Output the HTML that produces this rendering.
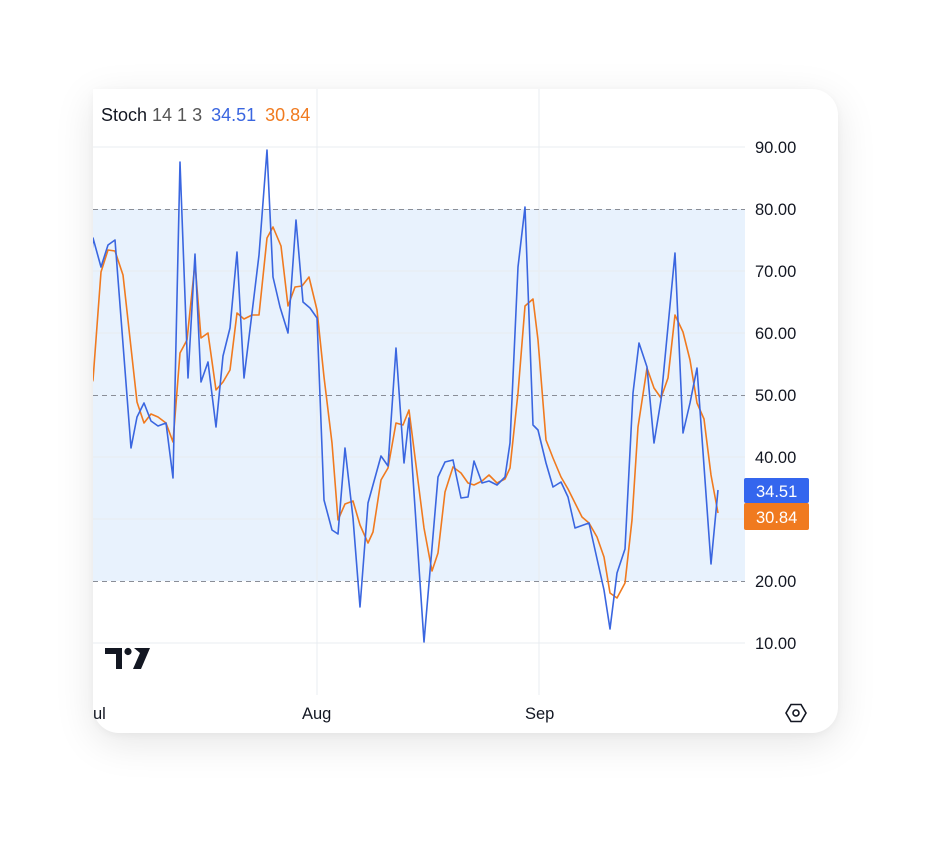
<!DOCTYPE html>
<html><head><meta charset="utf-8"><style>
html,body{margin:0;padding:0;background:#fff;}
body{width:932px;height:866px;position:relative;overflow:hidden;font-family:"Liberation Sans",sans-serif;}
.card{position:absolute;left:93px;top:89px;width:745px;height:644px;border-radius:0 26px 26px 26px;background:#fff;box-shadow:0 10px 40px rgba(0,0,0,0.10),0 2px 8px rgba(0,0,0,0.04);}
svg{position:absolute;left:0;top:0;}
</style></head><body>
<div class="card"></div>
<svg width="932" height="866" viewBox="0 0 932 866">
<defs><clipPath id="c"><rect x="93" y="89" width="652" height="600"/></clipPath></defs>
<rect x="93" y="209" width="652" height="372" fill="#e8f2fd"/>
<g stroke="#e9ecf0" stroke-width="1">
<line x1="93" y1="147" x2="745" y2="147"/><line x1="93" y1="271" x2="745" y2="271"/>
<line x1="93" y1="333" x2="745" y2="333"/><line x1="93" y1="457" x2="745" y2="457"/>
<line x1="93" y1="519" x2="745" y2="519"/><line x1="93" y1="643" x2="745" y2="643"/>
<line x1="317" y1="89" x2="317" y2="695"/><line x1="539" y1="89" x2="539" y2="695"/>
</g>
<g stroke="#8a8e97" stroke-width="1" stroke-dasharray="5,4">
<line x1="93" y1="209.5" x2="745" y2="209.5"/><line x1="93" y1="395.5" x2="745" y2="395.5"/><line x1="93" y1="581.5" x2="745" y2="581.5"/>
</g>
<g clip-path="url(#c)" fill="none" stroke-width="1.6" stroke-linejoin="round">
<polyline stroke="#f07a1f" points="91,385 93,380 101,272 108,250 115,251 123,275 137,402 144,423 151,414 158,417 166,423 173,442 180,353 187,340 195,263 201,338 208,333 216,390 223,382 230,370 237,313 244,319 252,315 259,315 267,238 273,227 281,246 288,306 295,287 302,286 309,277 317,310 324,377 332,443 338,520 345,504 353,501 360,525 368,543 373,532 381,480 388,468 396,423 403,425 409,410 424,528 432,571 438,553 445,492 453,467 461,473 468,483 474,485 482,481 489,475 497,483 505,479 510,468 518,393 525,306 533,299 538,340 546,440 553,458 561,477 568,489 582,517 589,523 597,537 604,557 610,593 617,598 625,583 632,520 638,427 647,368 654,388 661,398 668,378 675,315 683,332 690,360 697,403 704,419 711,475 718,513"/>
<polyline stroke="#3a66e0" points="91,265 93,238 101,267 108,245 115,240 131,448 137,417 144,403 151,421 158,426 166,423 173,478 180,162 188,378 195,254 201,382 208,362 216,427 223,356 230,328 237,252 244,378 252,313 259,255 267,150 273,277 280,307 288,333 296,220 303,302 310,308 317,318 324,500 332,530 338,534 345,448 353,518 360,607 368,503 381,456 388,466 396,348 404,463 409,418 424,642 438,477 445,462 453,460 461,498 468,497 474,461 482,483 489,481 497,485 505,477 510,443 518,267 525,207 533,425 538,430 546,463 553,487 561,482 568,497 575,528 589,523 604,590 610,629 617,573 625,549 633,393 639,343 647,367 654,443 661,400 675,253 683,433 690,403 697,368 711,564 718,490"/>
</g>
<g font-size="16.5" fill="#131722">
<text x="755" y="153">90.00</text><text x="755" y="215">80.00</text><text x="755" y="277">70.00</text>
<text x="755" y="339">60.00</text><text x="755" y="401">50.00</text><text x="755" y="463">40.00</text>
<text x="755" y="587">20.00</text><text x="755" y="649">10.00</text>
</g>
<rect x="744" y="478" width="65" height="25" rx="2" fill="#3466ee"/>
<rect x="744" y="503" width="65" height="27" rx="2" fill="#f07a1f"/>
<text x="756" y="497" font-size="16.5" fill="#fff">34.51</text>
<text x="756" y="523" font-size="16.5" fill="#fff">30.84</text>
<g font-size="18">
<text x="101" y="121" fill="#131722">Stoch <tspan fill="#555">14 1 3</tspan> <tspan fill="#3a66e0" dx="4">34.51</tspan> <tspan fill="#f07a1f" dx="4">30.84</tspan></text>
</g>
<g font-size="16.5" fill="#131722">
<text x="93" y="719">ul</text><text x="302" y="719">Aug</text><text x="525" y="719">Sep</text>
</g>
<g fill="#131722">
<path d="M105 648 H122 V669 H116 V654 H105 Z"/>
<circle cx="128" cy="651.5" r="3.6"/>
<path d="M134 648 H150 L141 669 H133 L140 653 Z"/>
</g>
<g fill="none" stroke="#131722" stroke-width="1.6">
<polygon points="786,713 791,704.5 801,704.5 806,713 801,721.5 791,721.5"/>
<circle cx="796" cy="713" r="3"/>
</g>
</svg>
</body></html>
